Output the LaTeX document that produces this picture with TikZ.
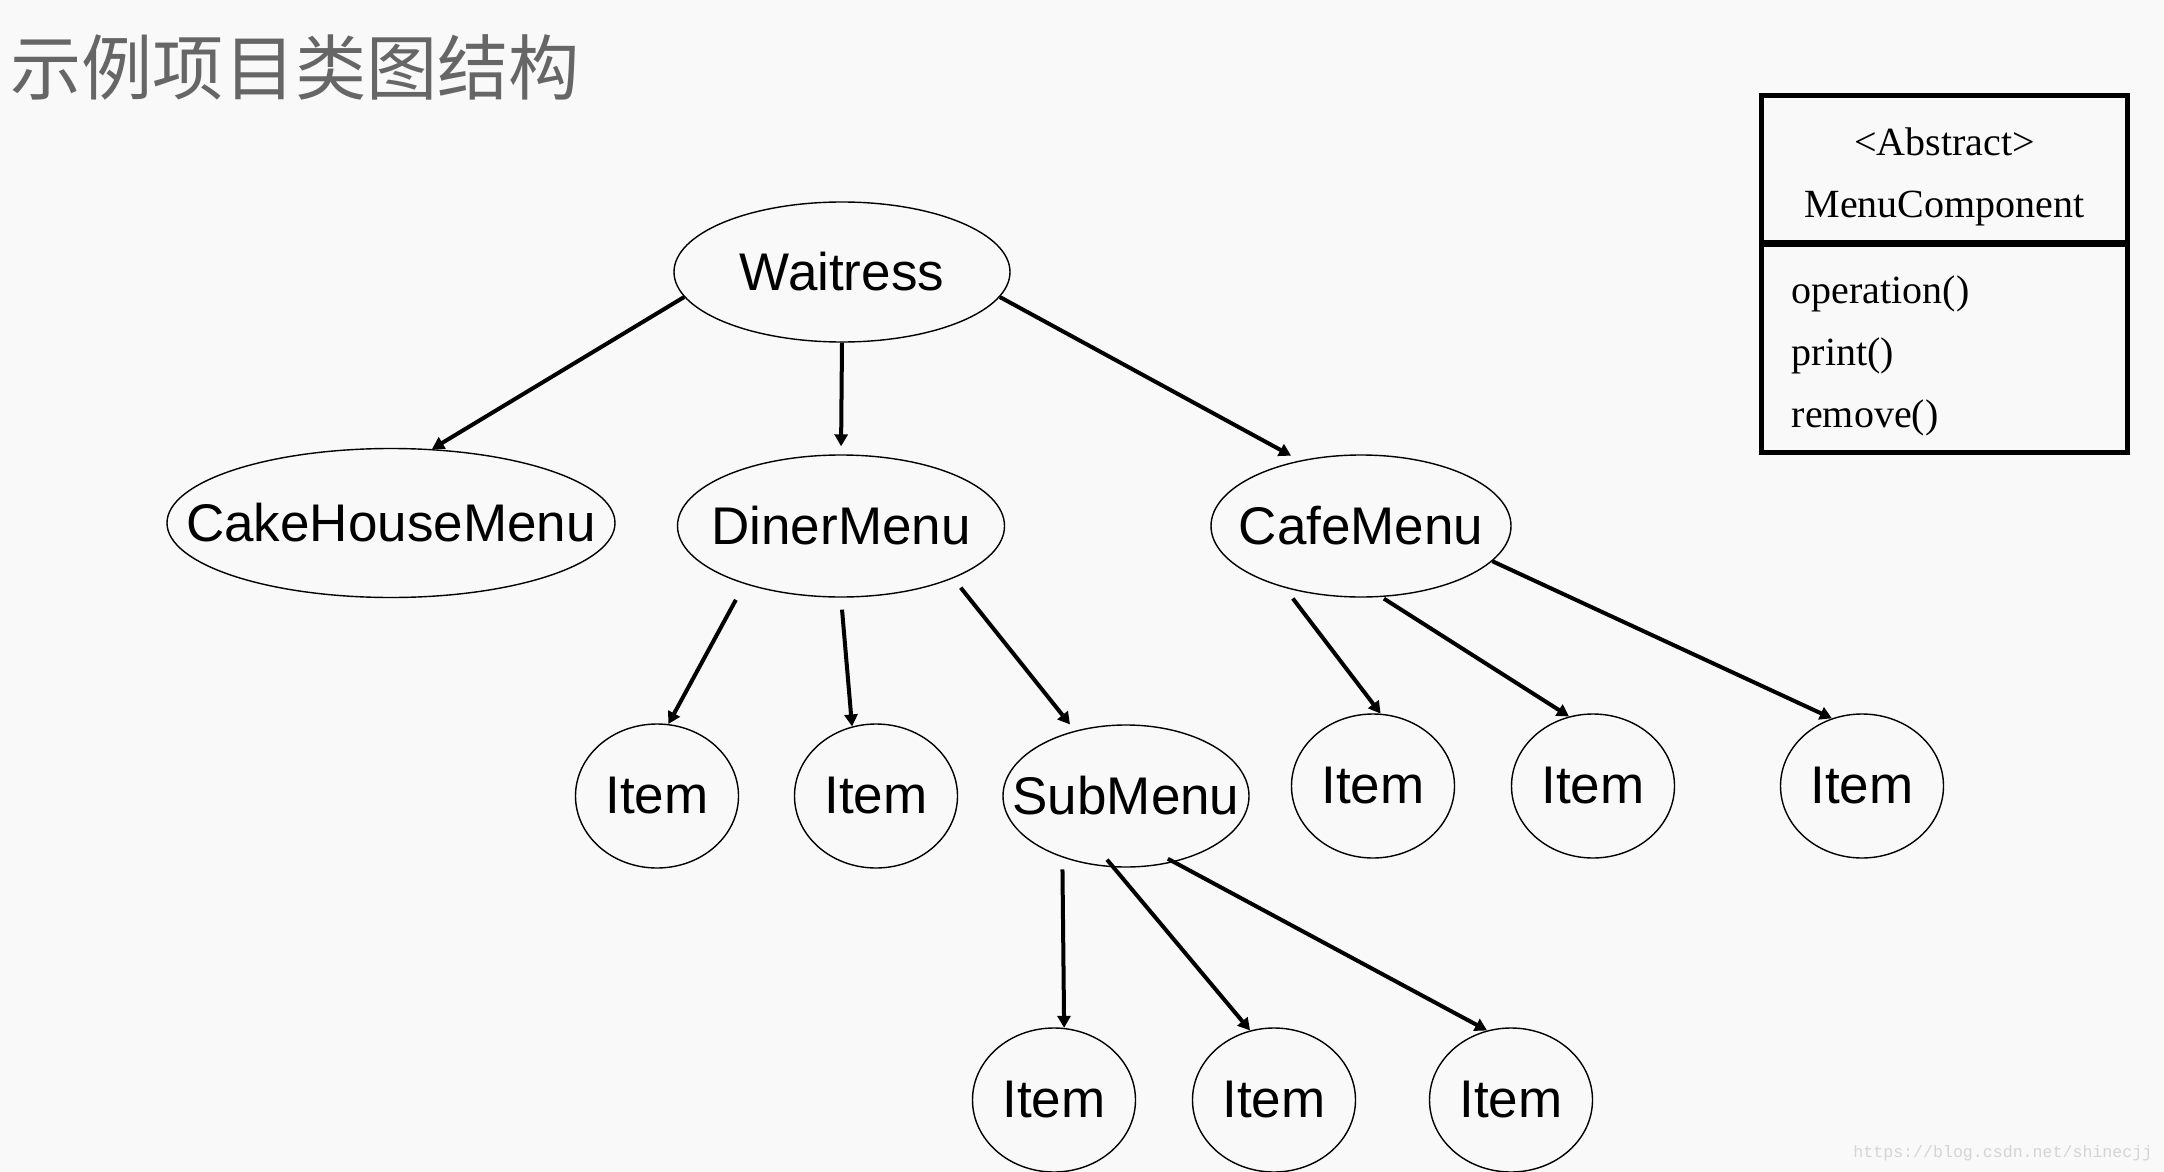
\documentclass[tikz,border=0pt]{standalone}
\usepackage{fontspec}
\setmainfont{Liberation Sans}
\newfontfamily\titlefont{Noto Sans CJK SC}
\newfontfamily\umlfont{Liberation Serif}
\newfontfamily\markfont{Liberation Mono}
\usepackage{xcolor}
\usepackage{tikz}
\usetikzlibrary{arrows.meta,positioning,shapes.geometric}
\definecolor{pagebg}{HTML}{F9F9F9}
\definecolor{titlegray}{HTML}{666666}
\definecolor{markgray}{HTML}{D4D4D4}
\newcommand{\nodetext}[1]{\makebox[0pt]{\raisebox{-1.2pt}{#1}}}

\begin{document}
\begin{tikzpicture}[
  x=0.5pt, y=-0.5pt,
  menu/.style={ellipse, draw=black, line width=0.7pt, inner sep=0pt,
               font=\fontsize{26.5}{30}\selectfont},
  item/.style={menu, minimum width=81.5pt, minimum height=72pt},
  arrow/.style={-{Triangle[length=6pt, width=6.5pt]}, line width=2pt, draw=black},
  uml/.style={rectangle, draw=black, line width=2.5pt, outer sep=0pt, minimum width=183pt},
  umltext/.style={inner sep=0pt, font=\umlfont\fontsize{20}{31}\selectfont}
]
\fill[pagebg] (0,0) rectangle (2164,1172);
\useasboundingbox (0,0) rectangle (2164,1172);

\node[anchor=base west, inner sep=0pt, text=titlegray,
      font=\titlefont\fontsize{35.6}{40}\selectfont] (title) at (10,95) {示例项目类图结构};

\node[menu, minimum width=168pt, minimum height=70pt] (waitress) at (842,272) {\nodetext{Waitress}};
\node[menu, minimum width=224pt, minimum height=74.5pt] (cake) at (391,523) {\nodetext{CakeHouseMenu}};
\node[menu, minimum width=163.5pt, minimum height=71pt] (diner) at (841,526) {\nodetext{DinerMenu}};
\node[menu, minimum width=150pt, minimum height=71pt] (cafe) at (1361,526) {\nodetext{CafeMenu}};

\node[item] (ditem1) at (657,796) {\nodetext{Item}};
\node[item] (ditem2) at (876,796) {\nodetext{Item}};
\node[menu, minimum width=123pt, minimum height=71pt] (submenu) at (1126,796) {\nodetext{SubMenu}};

\node[item] (citem1) at (1373,786) {\nodetext{Item}};
\node[item] (citem2) at (1593,786) {\nodetext{Item}};
\node[item] (citem3) at (1862,786) {\nodetext{Item}};

\node[item] (sitem1) at (1054,1100) {\nodetext{Item}};
\node[item] (sitem2) at (1274,1100) {\nodetext{Item}};
\node[item] (sitem3) at (1511,1100) {\nodetext{Item}};

\node[uml, minimum height=74pt, anchor=north west] (umlhead) at (1761.5,95.5) {};
\node[uml, minimum height=104.5pt, below=0pt of umlhead] (umlbody) {};
\draw[line width=3.5pt] (umlhead.south west) -- (umlhead.south east);
\node[umltext, align=center] (headtext) at ([yshift=-3.7pt]umlhead.center) {<Abstract>\\MenuComponent};
\node[umltext, align=left, anchor=west] (bodytext) at ([xshift=15pt, yshift=-3.7pt]umlbody.west)
  {operation()\\print()\\remove()};

\node[anchor=base west, inner sep=0pt, text=markgray,
      font=\markfont\fontsize{8.3}{10}\selectfont] (mark) at (1853,1157) {https://blog.csdn.net/shinecjj};

\draw[arrow] (waitress.189) -- (cake.61);
\draw[arrow, shorten >=4pt] (waitress.south) -- (diner.north);
\draw[arrow, shorten >=5pt] (waitress.351) -- (cafe.133);
\draw[arrow, shorten <=9pt] (diner.211) -- (ditem1.81);
\draw[arrow, shorten <=6pt] (diner.south) -- (ditem2.109);
\draw[arrow, shorten <=6pt, shorten >=4pt] (diner.335) -- (submenu.128);
\draw[arrow, shorten <=6.7pt] (cafe.219) -- (citem1.84);
\draw[arrow, shorten <=1.5pt] (cafe.286) -- (citem2.109);
\draw[arrow] (cafe.345) -- (citem3.114);
\draw[arrow, shorten <=6pt] (submenu.224.5) -- (sitem1.82);
\draw[arrow, shorten <=-5pt] (submenu.260) -- (sitem2.109);
\draw[arrow, shorten <=-3.5pt] (submenu.306) -- (sitem3.109);
\end{tikzpicture}
\end{document}
